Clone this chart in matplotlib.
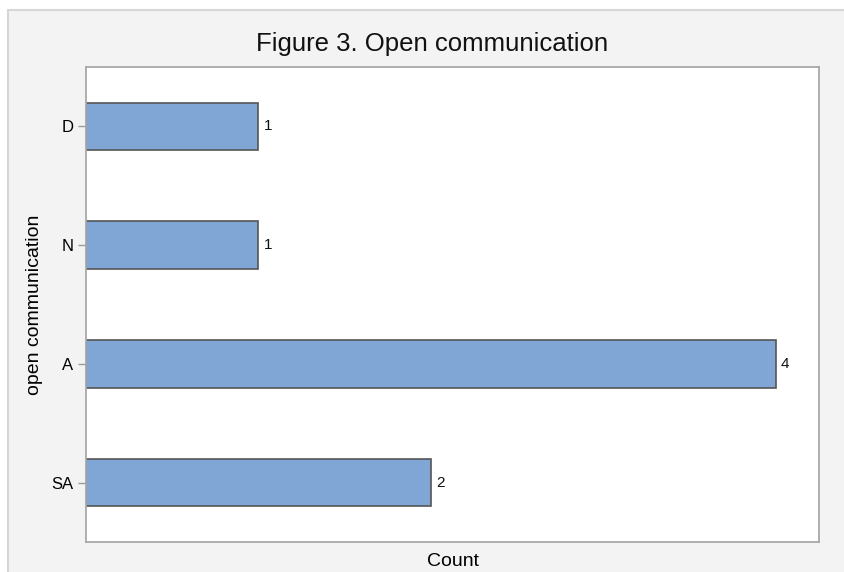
import matplotlib.pyplot as plt
from matplotlib.patches import Rectangle

categories = ['D', 'N', 'A', 'SA']
counts = [1, 1, 4, 2]

plt.rcParams['font.family'] = ['Liberation Sans', 'DejaVu Sans']

fig = plt.figure(figsize=(8.44, 5.72), dpi=100)
fig.patch.set_facecolor('white')

# gray panel behind the chart
W, H = 844, 572
fig.patches.append(Rectangle((8 / W, -0.05), 1, 0.05 + (H - 10) / H, transform=fig.transFigure,
                             facecolor='#f3f3f3', edgecolor='#d6d6d6', linewidth=1.5,
                             zorder=-5))

ax = fig.add_axes([86 / W, 1 - 542 / H, (819 - 86) / W, (542 - 67) / H])
ax.set_facecolor('white')

y = list(range(len(categories)))
bars = ax.barh(y, counts, height=0.4, color='#80a6d6', edgecolor='#555555', linewidth=1.2)
for b, c in zip(bars, counts):
    ax.text(b.get_width() + 0.03, b.get_y() + b.get_height() / 2, str(c),
            va='center', ha='left', fontsize=11, color='#111111')

ax.set_yticks(y)
ax.set_yticklabels(categories, fontsize=12)
ax.set_ylim(len(categories) - 0.5, -0.5)
ax.set_xlim(0, 4.25)
ax.set_xticks([])
ax.tick_params(axis='y', length=6, color='#999999', width=1, pad=3)

for s in ax.spines.values():
    s.set_color('#a8a8a8')
    s.set_linewidth(1.3)

fig.text(432 / W, 1 - 44 / H, 'Figure 3. Open communication', ha='center', va='center',
         fontsize=18.5, color='#111111')
ax.set_xlabel('Count', fontsize=14, labelpad=8)
ax.set_ylabel('open communication', fontsize=14, labelpad=6)

fig.savefig('out.png', dpi=100)
